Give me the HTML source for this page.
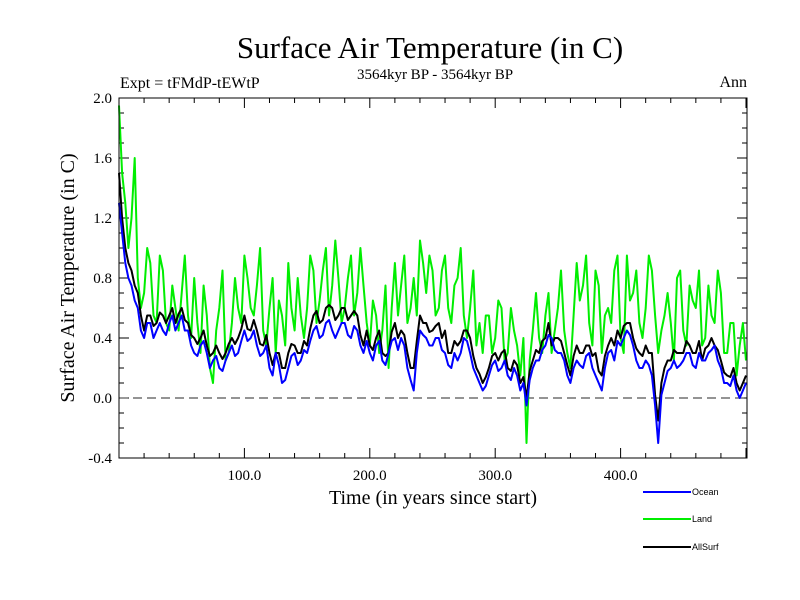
<!DOCTYPE html>
<html><head><meta charset="utf-8"><style>
body{margin:0;background:#fff;}
svg{display:block;font-family:"Liberation Serif",serif;}
</style></head><body>
<svg width="800" height="600" viewBox="0 0 800 600" id="c">
<rect width="800" height="600" fill="#fff"/>
<text x="430" y="58" font-size="31" text-anchor="middle">Surface Air Temperature (in C)</text>
<text x="120" y="88" font-size="16">Expt = tFMdP-tEWtP</text>
<text x="435" y="79" font-size="15" text-anchor="middle">3564kyr BP - 3564kyr BP</text>
<text x="747" y="87" font-size="16" text-anchor="end">Ann</text>
<text x="433" y="504" font-size="20" text-anchor="middle">Time (in years since start)</text>
<text transform="translate(74,278) rotate(-90)" font-size="20" text-anchor="middle">Surface Air Temperature (in C)</text>
<g id="ticks"></g>
<g id="series"></g>
<rect x="119" y="98" width="628" height="360" fill="none" stroke="#000" stroke-width="1"/>
<g font-family="Liberation Sans, sans-serif" font-size="9">
<line x1="643" y1="492" x2="691" y2="492" stroke="#0000ff" stroke-width="2"/>
<text x="692" y="495">Ocean</text>
<line x1="643" y1="519" x2="691" y2="519" stroke="#00ee00" stroke-width="2"/>
<text x="692" y="522">Land</text>
<line x1="643" y1="547" x2="691" y2="547" stroke="#000" stroke-width="2"/>
<text x="692" y="550">AllSurf</text>
</g>
</svg>
<script>
// values at years 0,5,10,...,500
const landMain = [1.95,1.3,1.2,0.8,0.7,0.9,0.5,0.85,0.45,0.6,0.7,0.55,0.8,0.3,0.55,0.1,0.6,0.25,0.5,0.6,0.95,0.6,0.75,0.45,0.6,0.3,0.55,0.9,0.45,0.55,0.6,0.85,0.65,1.0,0.75,0.8,0.6,0.95,0.7,0.75,0.35,0.55,0.45,0.2,0.9,0.75,0.5,0.8,1.05,0.7,0.85,0.6,0.95,0.5,0.8,0.55,0.6,0.35,0.3,0.55,0.4,0.6,0.3,0.45,0.15,-0.3,0.45,0.4,0.55,0.3,0.6,0.45,0.2,0.9,0.75,0.5,0.85,0.3,0.6,0.85,0.4,0.95,0.7,0.5,0.6,0.85,0.3,0.55,0.5,0.8,0.45,0.75,0.6,0.35,0.75,0.5,0.7,0.3,0.5,0.35,0.25];
// values at years 2.5,7.5,...,497.5
const landMid = [1.5,1.0,1.6,0.6,1.0,0.55,0.95,0.5,0.75,0.45,0.95,0.4,0.5,0.75,0.2,0.45,0.85,0.3,0.8,0.5,0.8,0.55,1.0,0.35,0.8,0.65,0.35,0.6,0.8,0.4,0.95,0.5,0.85,0.55,1.05,0.5,0.8,0.55,1.0,0.5,0.65,0.3,0.75,0.6,0.55,0.95,0.6,0.55,0.9,0.95,0.55,0.85,0.6,0.75,1.0,0.4,0.85,0.5,0.55,0.3,0.65,0.25,0.6,0.35,0.4,0.25,0.7,0.3,0.7,0.45,0.85,0.3,0.55,0.65,0.95,0.35,0.75,0.55,0.5,0.95,0.3,0.65,0.85,0.4,0.95,0.55,0.45,0.7,0.25,0.85,0.35,0.65,0.85,0.4,0.55,0.85,0.3,0.5,0.15,0.5];
const oceanMain = [1.3,0.9,0.75,0.6,0.4,0.5,0.45,0.45,0.5,0.45,0.55,0.45,0.3,0.35,0.3,0.25,0.2,0.25,0.35,0.3,0.45,0.4,0.35,0.3,0.2,0.3,0.1,0.2,0.3,0.25,0.3,0.45,0.4,0.5,0.45,0.45,0.5,0.4,0.45,0.3,0.3,0.35,0.25,0.3,0.4,0.4,0.2,0.05,0.45,0.4,0.35,0.4,0.3,0.2,0.25,0.4,0.3,0.15,0.05,0.15,0.25,0.2,0.15,0.2,0.05,-0.05,0.2,0.25,0.35,0.4,0.3,0.25,0.1,0.25,0.2,0.3,0.15,0.05,0.3,0.25,0.35,0.45,0.35,0.2,0.25,0.15,-0.3,0.1,0.2,0.2,0.25,0.3,0.2,0.25,0.3,0.35,0.2,0.1,0.15,0.0,0.1];
const oceanMid = [1.1,0.8,0.65,0.45,0.5,0.4,0.5,0.42,0.55,0.5,0.45,0.35,0.28,0.38,0.2,0.28,0.18,0.3,0.28,0.38,0.38,0.45,0.28,0.35,0.15,0.22,0.12,0.28,0.22,0.32,0.38,0.48,0.42,0.52,0.4,0.5,0.42,0.48,0.35,0.38,0.25,0.38,0.22,0.38,0.32,0.35,0.12,0.3,0.42,0.35,0.4,0.32,0.22,0.3,0.3,0.38,0.2,0.1,0.08,0.22,0.18,0.25,0.12,0.15,0.1,0.12,0.25,0.32,0.42,0.32,0.3,0.15,0.2,0.22,0.28,0.2,0.1,0.2,0.32,0.38,0.4,0.42,0.25,0.2,0.22,-0.05,0.02,0.18,0.25,0.22,0.3,0.22,0.3,0.25,0.32,0.25,0.1,0.08,0.05,0.05];
const allsurfMain = [1.5,1.0,0.85,0.7,0.45,0.55,0.5,0.55,0.55,0.5,0.6,0.5,0.4,0.4,0.35,0.3,0.3,0.3,0.4,0.4,0.55,0.45,0.45,0.35,0.3,0.3,0.2,0.3,0.35,0.3,0.35,0.55,0.5,0.6,0.6,0.55,0.6,0.55,0.55,0.35,0.35,0.4,0.3,0.3,0.5,0.45,0.3,0.2,0.55,0.5,0.45,0.5,0.45,0.3,0.35,0.45,0.4,0.2,0.1,0.2,0.3,0.3,0.2,0.25,0.1,0.0,0.25,0.3,0.4,0.35,0.4,0.3,0.15,0.35,0.3,0.35,0.3,0.15,0.35,0.35,0.4,0.5,0.4,0.3,0.35,0.3,-0.15,0.2,0.25,0.3,0.3,0.35,0.3,0.25,0.35,0.35,0.25,0.15,0.2,0.05,0.15];
const allsurfMid = [1.2,0.9,0.75,0.55,0.55,0.48,0.57,0.5,0.6,0.56,0.52,0.42,0.36,0.45,0.28,0.35,0.26,0.36,0.36,0.46,0.46,0.52,0.36,0.42,0.22,0.3,0.2,0.36,0.3,0.38,0.46,0.58,0.52,0.62,0.52,0.6,0.52,0.58,0.42,0.45,0.32,0.45,0.28,0.44,0.4,0.42,0.2,0.38,0.5,0.44,0.48,0.4,0.3,0.38,0.38,0.45,0.28,0.16,0.14,0.28,0.25,0.32,0.18,0.22,0.14,0.18,0.32,0.38,0.5,0.4,0.38,0.22,0.28,0.3,0.35,0.28,0.18,0.28,0.4,0.45,0.48,0.5,0.33,0.28,0.3,0.02,0.1,0.25,0.32,0.3,0.38,0.3,0.38,0.33,0.4,0.32,0.17,0.14,0.1,0.1];
const yTickLabels = ["-0.4","0.0","0.4","0.8","1.2","1.6","2.0"];
const xTickLabels = ["100.0","200.0","300.0","400.0"];

function interleave(main, mid){const ys=[],vs=[];for(let i=0;i<main.length;i++){ys.push(i*5);vs.push(main[i]);if(i<mid.length){ys.push(i*5+2.5);vs.push(mid[i]);}}return {ys,vs};}

const X0=119, X1=747, Y0=458, Y1=98, XMAX=500.8, YMIN=-0.4, YMAX=2.0;
const sx = v => X0 + (v/XMAX)*(X1-X0);
const sy = v => Y0 - (v-YMIN)/(YMAX-YMIN)*(Y0-Y1);
const NS='http://www.w3.org/2000/svg';
const tg=document.getElementById('ticks');
function mk(tag, attrs, parent){const e=document.createElementNS(NS,tag);for(const k in attrs)e.setAttribute(k,attrs[k]);parent.appendChild(e);return e;}
for(let i=0;i<=24;i++){
  const v=YMIN+i*0.1, y=sy(v), major=i%4===0, L=major?10:5;
  const t=mk('path',{d:`M${X0} ${y}h${L}M${X1} ${y}h${-L}`,stroke:'#000','stroke-width':1},tg);
  
  
}
yTickLabels.forEach(s=>{
  const t=mk('text',{x:X0-7,y:sy(parseFloat(s))+5,'font-size':15,'text-anchor':'end'},tg);
  t.textContent=s;
  
  
});
for(let v=20;v<=500;v+=20){
  const x=sx(v), major=v%100===0, L=major?10:5;
  const t=mk('path',{d:`M${x} ${Y0}v${-L}M${x} ${Y1}v${L}`,stroke:'#000','stroke-width':1},tg);
  
  
}
xTickLabels.forEach(s=>{
  const t=mk('text',{x:sx(parseFloat(s)),y:Y0+22,'font-size':15,'text-anchor':'middle'},tg);
  t.textContent=s;
  
  
});
const zl=mk('line',{x1:X0,x2:X1,y1:sy(0),y2:sy(0),stroke:'#555','stroke-width':1.2,'stroke-dasharray':'9,5'},tg);


const sg=document.getElementById('series');
function line(main,mid,color,name){
  const d=interleave(main,mid);
  const p=mk('polyline',{points:d.vs.map((v,i)=>sx(d.ys[i]).toFixed(1)+','+sy(v).toFixed(1)).join(' '),fill:'none',stroke:color,'stroke-width':2,'stroke-linejoin':'round'},sg);
  
  
}
line(landMain,landMid,'#00ee00','land-line');
line(allsurfMain,allsurfMid,'#000000','allsurf-line');
line(oceanMain,oceanMid,'#0000ff','ocean-line');
</script>
</body></html>
